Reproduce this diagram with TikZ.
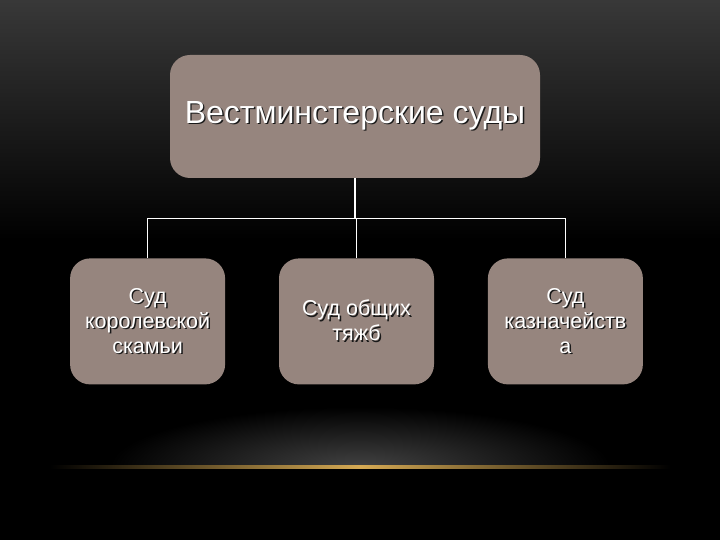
\documentclass[tikz,border=0pt]{standalone}
\usepackage{fontspec}
\setmainfont{Liberation Sans}
\usetikzlibrary{calc,positioning}
\definecolor{boxfill}{RGB}{150,133,126}
\definecolor{gold}{RGB}{214,170,84}
\newcommand{\shd}[1]{\leavevmode\rlap{\raisebox{-1.4pt}{\kern1.4pt\textcolor{black!90}{#1}}}#1}

\begin{document}
\begin{tikzpicture}[x=1pt,y=-1pt]
\tikzstyle{court}=[rounded corners=20pt, fill=boxfill, text=white, align=center, inner sep=2pt]
\tikzstyle{small}=[court, minimum width=155pt, minimum height=126pt, font=\fontsize{21.5}{25}\selectfont]
\tikzstyle{lnk}=[draw=white, line width=1.2pt]
\pgfmathsetmacro{\gap}{53.5}

% background
\useasboundingbox (0,0) rectangle (720,540);
\fill[black] (0,0) rectangle (720,540);
\shade[top color=black!78, bottom color=black] (0,0) rectangle (720,240);
\begin{scope}
\clip (0,400) rectangle (720,467);
\shade[inner color=black!74, outer color=black] (360,467) ellipse [x radius=250, y radius=60];
\end{scope}
\shade[left color=black, right color=black, middle color=gold] (50,465.8) rectangle (670,468.3);

\node[court, minimum width=370pt, minimum height=123pt, font=\fontsize{32}{36}\selectfont] (west) at (355,116.5) {\shd{Вестминстерские суды}};
\node[small, below=80pt of west, xshift=1.5pt] (common) {\shd{Суд общих}\\\shd{тяжб}};
\node[small, left=\gap pt of common] (bench) {\shd{Суд}\\\shd{королевской}\\\shd{скамьи}};
\node[small, right=\gap pt of common] (exch) {\shd{Суд}\\\shd{казначейств}\\\shd{а}};

\coordinate (bar) at ($(west.south)!0.5!(common.north)$);
\draw[lnk] (west.south) -- (west.south |- bar);
\foreach \c in {bench,common,exch}{\draw[lnk] (west.south |- bar) -| (\c.north);}
\end{tikzpicture}
\end{document}
